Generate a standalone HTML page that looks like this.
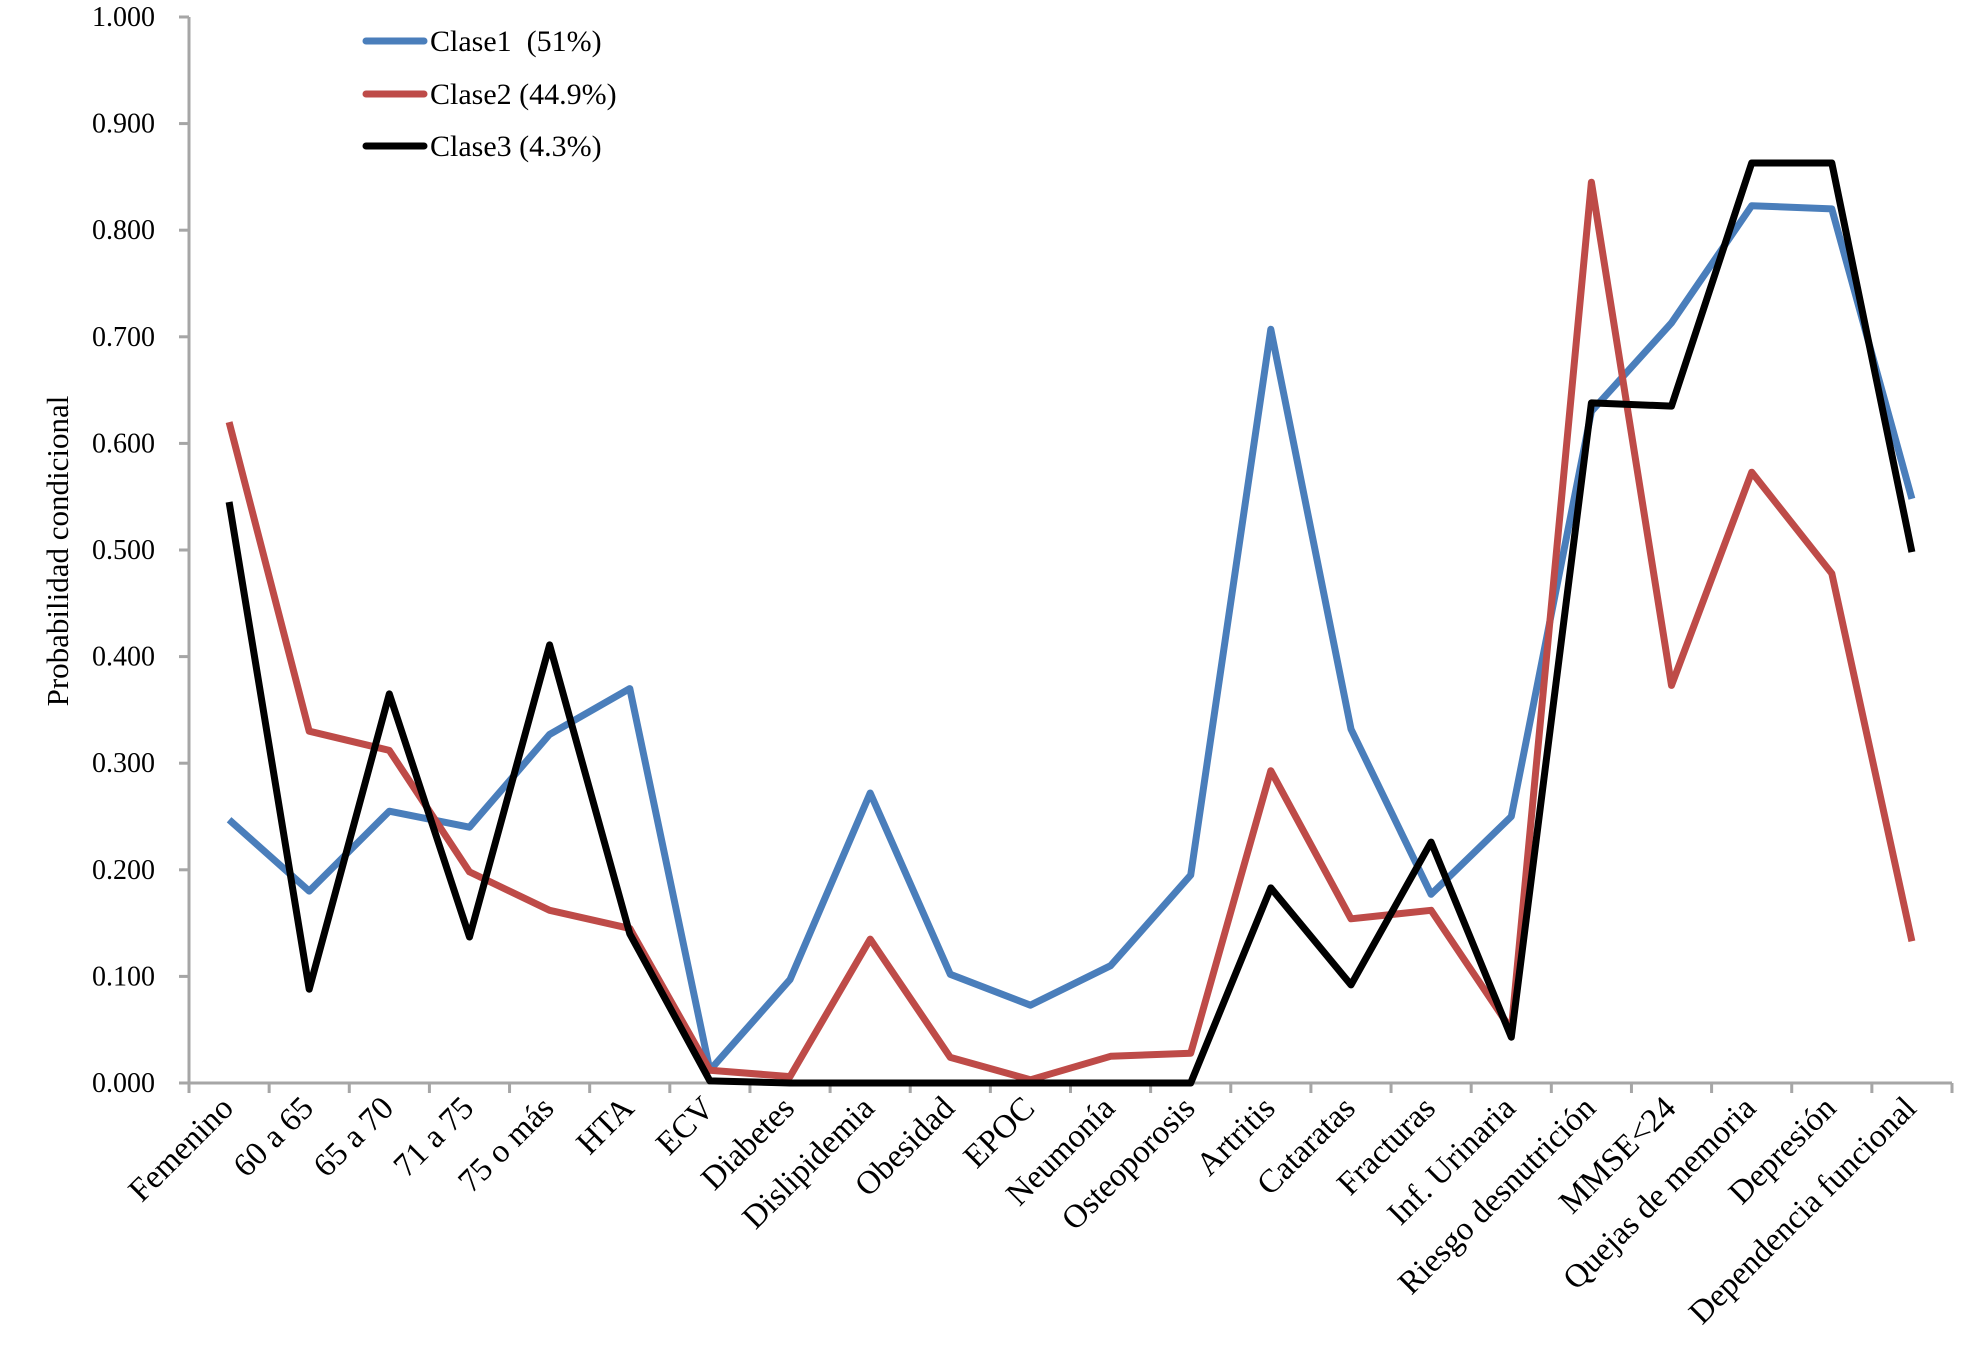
<!DOCTYPE html>
<html><head><meta charset="utf-8">
<style>
html,body{margin:0;padding:0;background:#fff;}
svg{display:block;font-family:"Liberation Serif",serif;}
.pre{white-space:pre;}
</style></head>
<body>
<svg id="chart" width="1981" height="1345" viewBox="0 0 1981 1345" xmlns="http://www.w3.org/2000/svg">
<g id="axes"></g>
<g id="series"></g>
<g id="legend"></g>
<text x="0" y="0" transform="translate(68,551) rotate(-90)" text-anchor="middle" font-size="31">Probabilidad condicional</text>
</svg>
<script>
const categories = ["Femenino","60 a 65","65 a 70","71 a 75","75 o más","HTA","ECV","Diabetes","Dislipidemia","Obesidad","EPOC","Neumonía","Osteoporosis","Artritis","Cataratas","Fracturas","Inf. Urinaria","Riesgo desnutrición","MMSE<24","Quejas de memoria","Depresión","Dependencia funcional"];
const clase1 = [0.247,0.180,0.255,0.240,0.327,0.370,0.012,0.097,0.272,0.102,0.073,0.110,0.195,0.707,0.332,0.177,0.250,0.630,0.713,0.823,0.820,0.548];
const clase2 = [0.620,0.330,0.312,0.198,0.162,0.145,0.012,0.006,0.135,0.024,0.003,0.025,0.028,0.293,0.154,0.162,0.050,0.845,0.373,0.573,0.478,0.133];
const clase3 = [0.545,0.088,0.365,0.137,0.411,0.140,0.002,0.000,0.000,0.000,0.000,0.000,0.000,0.183,0.092,0.226,0.043,0.638,0.635,0.863,0.863,0.498];
const yTicks = [0,0.1,0.2,0.3,0.4,0.5,0.6,0.7,0.8,0.9,1.0];
const seriesNames = ["Clase1  (51%)","Clase2 (44.9%)","Clase3 (4.3%)"];

const NS="http://www.w3.org/2000/svg";
const X0=189, X1=1952, Y0=1083, Y1=17;
const step=(X1-X0)/categories.length;
function xPos(i){return X0+step*(i+0.5);}
function yPos(v){return Y0-(Y0-Y1)*v;}
function mk(tag,attrs,parent){const e=document.createElementNS(NS,tag);for(const k in attrs)e.setAttribute(k,attrs[k]);parent.appendChild(e);return e;}
const axes=document.getElementById('axes');
const AX="#a6a6a6";
let e=mk('line',{x1:X0,y1:Y1,x2:X0,y2:Y0,stroke:AX,'stroke-width':3},axes);


e=mk('line',{x1:X0-10,y1:Y0,x2:X1,y2:Y0,stroke:AX,'stroke-width':3},axes);


yTicks.forEach(v=>{
  const y=yPos(v);
  let t=mk('line',{x1:X0-10,y1:y,x2:X0,y2:y,stroke:AX,'stroke-width':3},axes);
  
  
  let l=mk('text',{x:155,y:y+9,'text-anchor':'end','font-size':28},axes);
  
  
  l.textContent=v.toFixed(3);
});
for(let i=0;i<=categories.length;i++){
  const x=X0+step*i;
  let t=mk('line',{x1:x,y1:Y0,x2:x,y2:Y0+10,stroke:AX,'stroke-width':3},axes);
  
  
}
categories.forEach((c,i)=>{
  const x=xPos(i)+6, y=1110;
  let l=mk('text',{x:0,y:0,transform:`translate(${x},${y}) rotate(-45)`,'text-anchor':'end','font-size':33},axes);
  
  
  l.textContent=c;
});
const colors=["#4a7ebb","#be4b48","#000000"];
const data=[clase1,clase2,clase3];
const sg=document.getElementById('series');
data.forEach((arr,s)=>{
  const pts=arr.map((v,i)=>xPos(i).toFixed(1)+","+yPos(v).toFixed(1)).join(" ");
  let p=mk('polyline',{points:pts,fill:'none',stroke:colors[s],'stroke-width':7,'stroke-linejoin':'round','stroke-linecap':'butt'},sg);
  
  
});
const lg=document.getElementById('legend');
const ly=[41,94,146];
seriesNames.forEach((n,s)=>{
  let ln=mk('line',{x1:366,y1:ly[s],x2:424,y2:ly[s],stroke:colors[s],'stroke-width':7,'stroke-linecap':'round'},lg);
  
  
  let t=mk('text',{x:430,y:ly[s]+10,'font-size':30,'class':'pre'},lg);
  
  
  t.textContent=n;
});
</script>
</body></html>
